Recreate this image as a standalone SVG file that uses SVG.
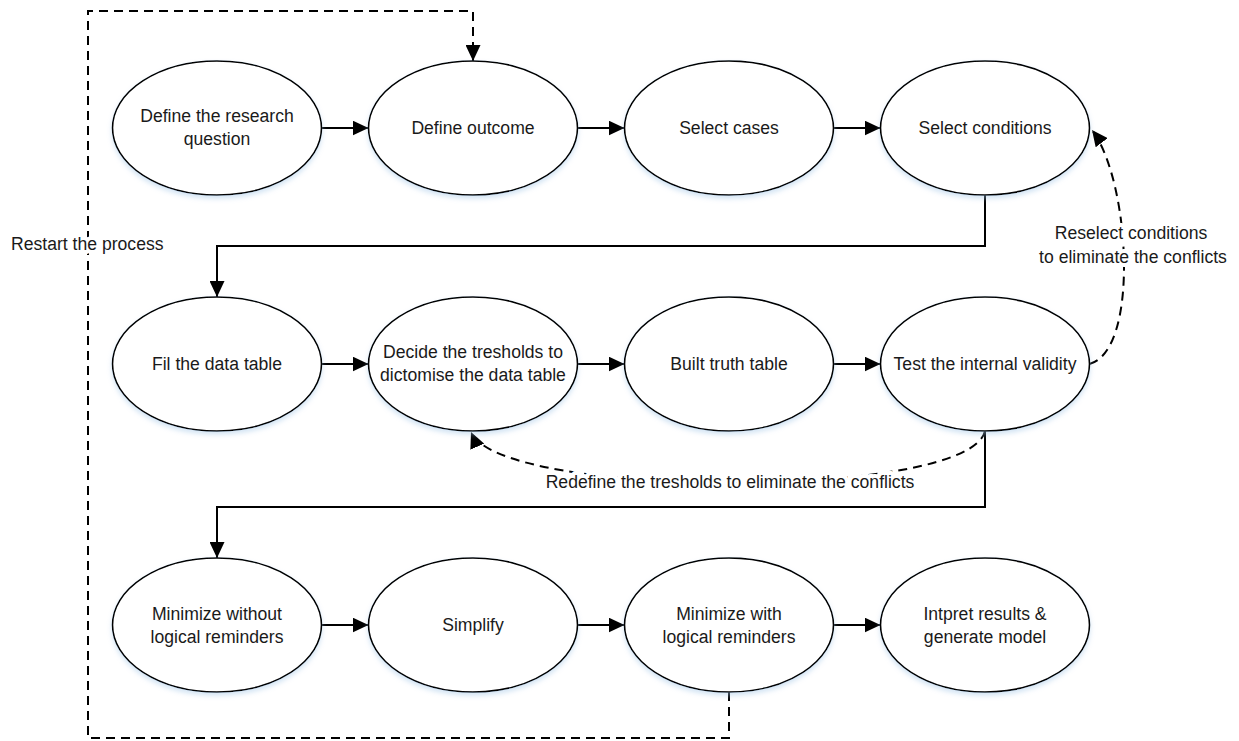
<svg xmlns="http://www.w3.org/2000/svg" width="1239" height="741" viewBox="0 0 1239 741">
<style>
.node ellipse{fill:#fff;stroke:#000;stroke-width:1.6;filter:url(#sh)}
text{font-family:"Liberation Sans",Arial,sans-serif;font-size:17.6px;fill:#1a1a1a;text-anchor:middle}
.solid{fill:none;stroke:#000;stroke-width:2}
.dash{fill:none;stroke:#000;stroke-width:2;stroke-dasharray:9 6}
.lbl{paint-order:stroke;stroke:#fff;stroke-width:8px;stroke-linejoin:round}
.free{text-anchor:start}
</style>
<defs>
<filter id="sh" x="-20%" y="-20%" width="140%" height="150%">
<feDropShadow dx="0" dy="3" stdDeviation="2.5" flood-color="#9dc3e6" flood-opacity="0.45"/>
</filter>
<marker id="ah" markerUnits="userSpaceOnUse" markerWidth="16" markerHeight="15" refX="16" refY="7.5" orient="auto">
<path d="M0,0 L16,7.5 L0,15 z" fill="#000"/>
</marker>
</defs>

<g id="connectors">
<path class="solid" marker-end="url(#ah)" d="M321.5,128 H368.5"/>
<path class="solid" marker-end="url(#ah)" d="M577.5,128 H624.5"/>
<path class="solid" marker-end="url(#ah)" d="M833.5,128 H880.5"/>
<path class="solid" marker-end="url(#ah)" d="M985,195 V246 H217 V297"/>
<path class="solid" marker-end="url(#ah)" d="M321.5,364 H368.5"/>
<path class="solid" marker-end="url(#ah)" d="M577.5,364 H624.5"/>
<path class="solid" marker-end="url(#ah)" d="M833.5,364 H880.5"/>
<path class="solid" marker-end="url(#ah)" d="M985,431 V507 H217 V558"/>
<path class="solid" marker-end="url(#ah)" d="M321.5,625 H368.5"/>
<path class="solid" marker-end="url(#ah)" d="M577.5,625 H624.5"/>
<path class="solid" marker-end="url(#ah)" d="M833.5,625 H880.5"/>
<path class="dash" marker-end="url(#ah)" d="M1089.5,364 C1140,350 1130,180 1092,130"/>
<path class="dash" marker-end="url(#ah)" d="M985,431 C970,500 500,500 471,432"/>
<path class="dash" marker-end="url(#ah)" d="M729,692 V738 H88 V11 H473 V61"/>
<text class="lbl" x="1131" y="239">Reselect conditions</text>
<text class="lbl" x="1133" y="263">to eliminate the conflicts</text>
<text class="lbl" x="730" y="488">Redefine the tresholds to eliminate the conflicts</text>
<text class="lbl free" x="11" y="250">Restart the process</text>
</g>

<g id="n1" class="node"><ellipse cx="217" cy="128" rx="104.5" ry="67"/><text x="217" y="122">Define the research</text><text x="217" y="145">question</text></g>
<g id="n2" class="node"><ellipse cx="473" cy="128" rx="104.5" ry="67"/><text x="473" y="134">Define outcome</text></g>
<g id="n3" class="node"><ellipse cx="729" cy="128" rx="104.5" ry="67"/><text x="729" y="134">Select cases</text></g>
<g id="n4" class="node"><ellipse cx="985" cy="128" rx="104.5" ry="67"/><text x="985" y="134">Select conditions</text></g>

<g id="n5" class="node"><ellipse cx="217" cy="364" rx="104.5" ry="67"/><text x="217" y="370">Fil the data table</text></g>
<g id="n6" class="node"><ellipse cx="473" cy="364" rx="104.5" ry="67"/><text x="473" y="358">Decide the tresholds to</text><text x="473" y="381">dictomise the data table</text></g>
<g id="n7" class="node"><ellipse cx="729" cy="364" rx="104.5" ry="67"/><text x="729" y="370">Built truth table</text></g>
<g id="n8" class="node"><ellipse cx="985" cy="364" rx="104.5" ry="67"/><text x="985" y="370">Test the internal validity</text></g>

<g id="n9" class="node"><ellipse cx="217" cy="625" rx="104.5" ry="67"/><text x="217" y="620">Minimize without</text><text x="217" y="643">logical reminders</text></g>
<g id="n10" class="node"><ellipse cx="473" cy="625" rx="104.5" ry="67"/><text x="473" y="631">Simplify</text></g>
<g id="n11" class="node"><ellipse cx="729" cy="625" rx="104.5" ry="67"/><text x="729" y="620">Minimize with</text><text x="729" y="643">logical reminders</text></g>
<g id="n12" class="node"><ellipse cx="985" cy="625" rx="104.5" ry="67"/><text x="985" y="620">Intpret results &amp;</text><text x="985" y="643">generate model</text></g>
</svg>
